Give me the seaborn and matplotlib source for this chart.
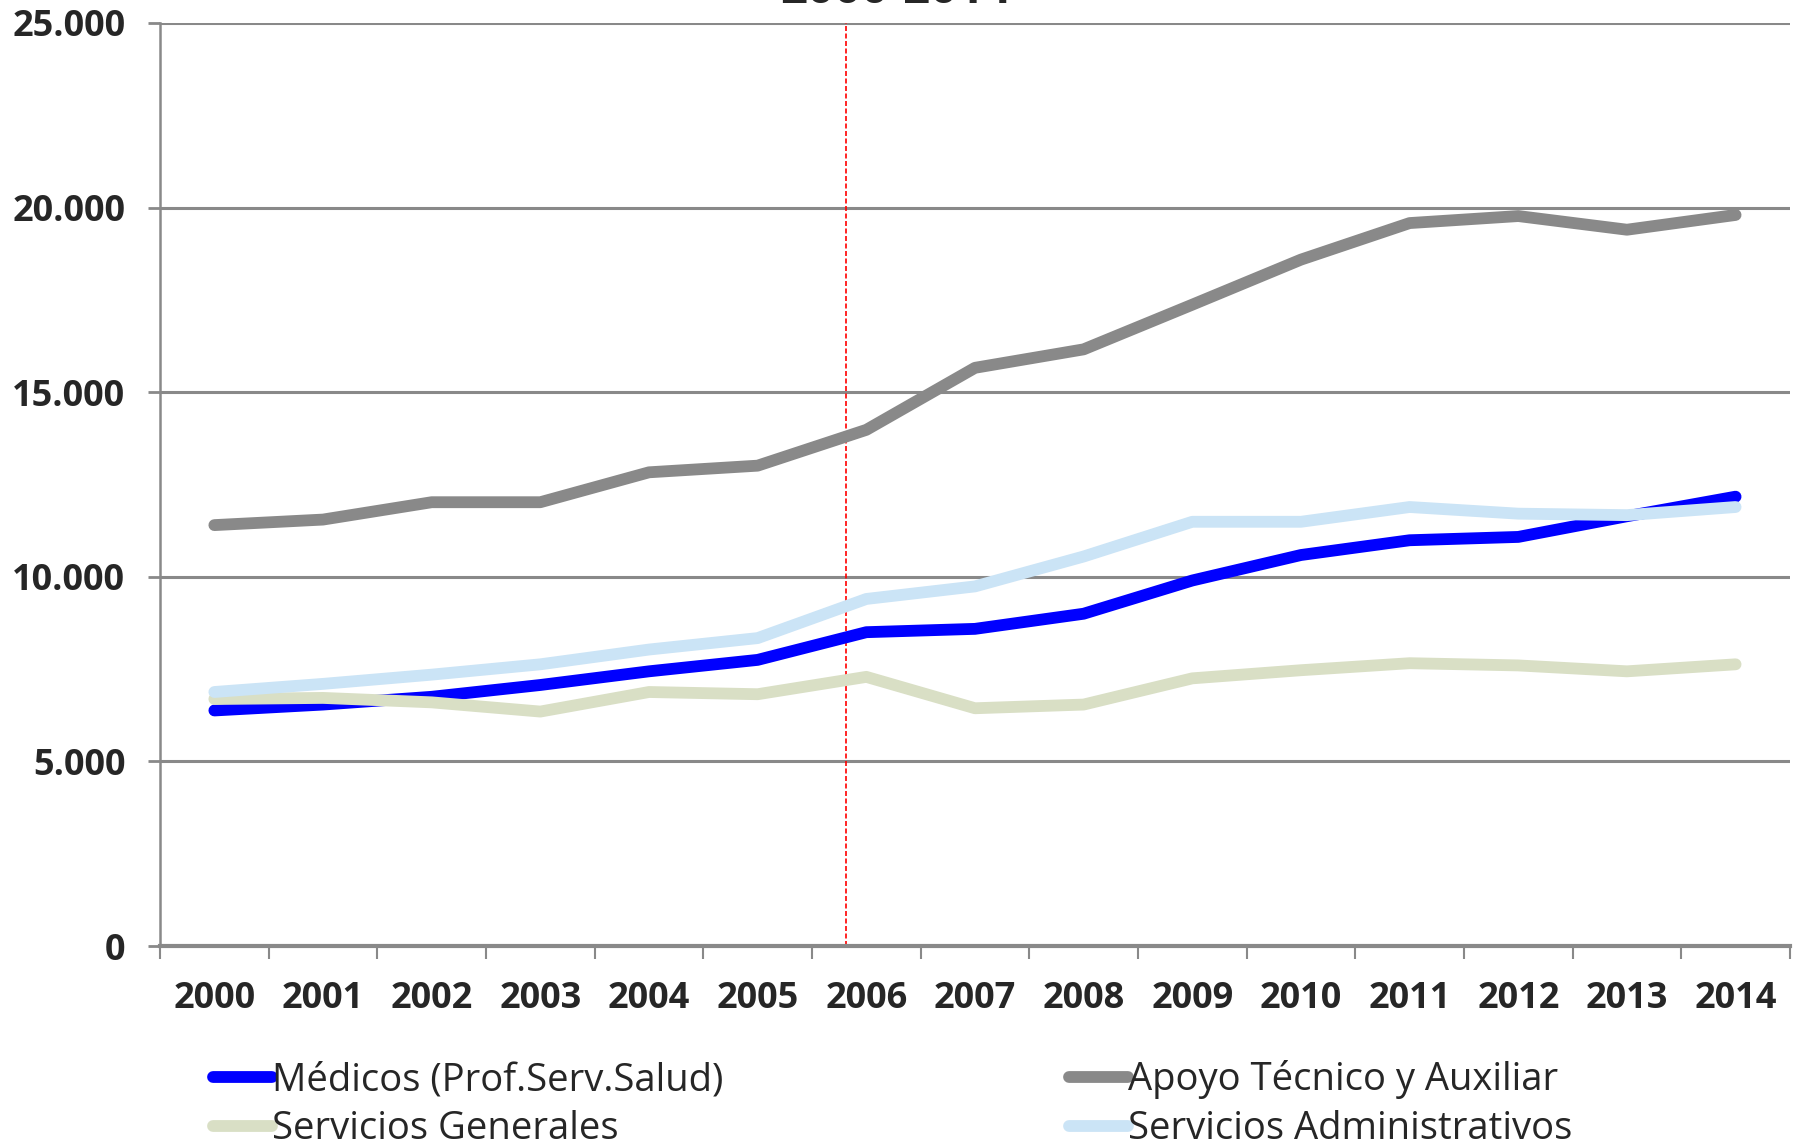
import numpy as np
import pandas as pd
import matplotlib
matplotlib.use('Agg')
import matplotlib.pyplot as plt
from matplotlib.lines import Line2D
import seaborn as sns

# Data
years = ['2000', '2001', '2002', '2003', '2004', '2005', '2006', '2007',
         '2008', '2009', '2010', '2011', '2012', '2013', '2014']
medicos = [6380, 6540, 6750, 7070, 7440, 7750, 8500, 8590,
           9000, 9900, 10590, 10990, 11080, 11640, 12170]
apoyo = [11400, 11550, 12020, 12020, 12830, 13010, 13980, 15660,
         16160, 17370, 18590, 19580, 19770, 19400, 19800]
generales = [6690, 6720, 6600, 6350, 6880, 6820, 7290, 6440,
             6540, 7250, 7470, 7660, 7600, 7440, 7630]
administrativos = [6880, 7100, 7350, 7630, 8030, 8340, 9400, 9740,
                   10550, 11490, 11490, 11890, 11710, 11670, 11890]

series_names = ['Médicos (Prof.Serv.Salud)', 'Apoyo Técnico y Auxiliar',
                'Servicios Generales', 'Servicios Administrativos']
series_colors = ['#0000FF', '#898989', '#D9DFC5', '#CBE4F6']
y_ticks = [0, 5000, 10000, 15000, 20000, 25000]
y_tick_labels = ['0', '5.000', '10.000', '15.000', '20.000', '25.000']
title_text = '2000-2014'
marker_year_pos = 5.81  # red dashed reference line

df = pd.DataFrame({
    'idx': np.tile(np.arange(len(years)), 4),
    'valor': medicos + apoyo + generales + administrativos,
    'serie': np.repeat(series_names, len(years)),
})

sns.set_style('white')
plt.rcParams['font.family'] = ['Open Sans', 'DejaVu Sans']

fig = plt.figure(figsize=(18.02, 11.47), dpi=100)
ax = fig.add_axes([0.0888, 0.1752, 0.9045, 0.8048])

grid_color = '#898989'
for v in y_ticks[1:]:
    ax.axhline(v, color=grid_color, linewidth=2.2, zorder=1)

sns.lineplot(data=df, x='idx', y='valor', hue='serie', hue_order=series_names,
             palette=dict(zip(series_names, series_colors)), linewidth=8.5,
             legend=False, ax=ax, zorder=3, sort=False)
for line in ax.get_lines()[-4:]:
    line.set_solid_capstyle('round')
    line.set_solid_joinstyle('round')

ax.axvline(marker_year_pos, color='#FF0000', linewidth=1.2, linestyle=(0, (3, 1.5)), zorder=2)

ax.set_xlim(-0.5, len(years) - 0.5)
ax.set_ylim(0, 25000)

# category boundaries as ticks, labels centred on categories
ax.set_xticks(np.arange(len(years) + 1) - 0.5)
ax.set_xticklabels([])
ax.set_xticks(np.arange(len(years)), minor=True)
ax.set_xticklabels(years, minor=True, fontsize=26, fontweight='bold')
ax.tick_params(axis='x', which='major', direction='out', length=9, width=1.5,
               color=grid_color, bottom=True)
ax.tick_params(axis='x', which='minor', length=0, pad=25)

ax.set_yticks(y_ticks)
ax.set_yticklabels(y_tick_labels, fontsize=26, fontweight='bold')
ax.tick_params(axis='y', direction='out', length=9, width=2, color=grid_color,
               left=True, pad=16)

ax.set_xlabel('')
ax.set_ylabel('')
for side in ['top', 'right']:
    ax.spines[side].set_visible(False)
ax.spines['left'].set_color(grid_color)
ax.spines['left'].set_linewidth(1.8)
ax.spines['bottom'].set_color(grid_color)
ax.spines['bottom'].set_linewidth(3)

fig.text(0.497, 0.9975, title_text, ha='center', va='baseline',
         fontsize=34, fontweight='bold')

# legend: read row-wise, so order handles column-wise
handles = [Line2D([0], [0], color=c, linewidth=8.5, solid_capstyle='round')
           for c in series_colors]
order = [0, 2, 1, 3]
fig.legend([handles[i] for i in order], [series_names[i] for i in order],
           ncol=2, loc='upper left', bbox_to_anchor=(0.118, 0.0755),
           frameon=False, fontsize=27.5, handlelength=1.55, handletextpad=0.0,
           columnspacing=9.05, labelspacing=0.28, borderaxespad=0, borderpad=0)

plt.savefig('out.png', dpi=100)
plt.close()
